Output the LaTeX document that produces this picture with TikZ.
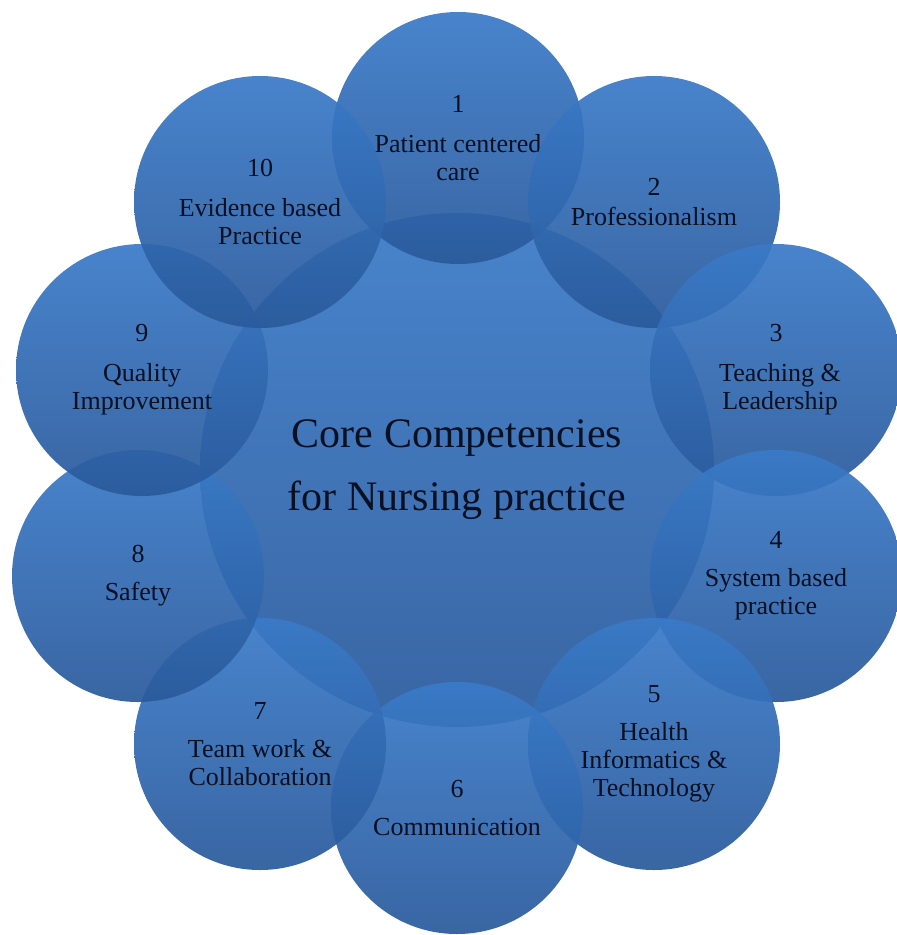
\documentclass[tikz,border=0pt]{standalone}
\usepackage{fontspec}
\setmainfont{Liberation Serif}
\usepackage{tikz}
\usetikzlibrary{positioning}
\usepackage{xcolor}
\definecolor{ringtop}{RGB}{58,122,200}
\definecolor{ringbot}{RGB}{42,90,156}
\definecolor{ink}{RGB}{8,16,34}

\begin{document}
\begin{tikzpicture}[x=1pt,y=-1pt,
        bubble/.style={circle,minimum size=252pt,inner sep=0pt,top color=ringtop,bottom color=ringbot,
            fill opacity=0.93,text opacity=1,text=ink,align=center,font=\fontsize{26}{28}\selectfont},
        hub/.style={bubble,minimum size=514pt,font=\fontsize{42}{63}\selectfont}]
            \useasboundingbox (0,0) rectangle (897,935);
            \node [hub] (core) at (457,470) {Core Competencies\\for Nursing practice};

            \node [bubble] (care) at (458,138) {1\\[12pt]Patient centered\\care};
            \node [bubble] (prof) at (654,202) {2\\[2pt]Professionalism};
            \node [bubble] (teach) at (776,370) {3\\[12pt]\hspace*{8pt}Teaching \&\\\hspace*{8pt}Leadership};
            \node [bubble] (system) at (776,576) {4\\[10pt]System based\\practice};
            \node [bubble] (health) at (654,744) {5\\[10pt]Health\\Informatics \&\\Technology};
            \node [bubble] (comm) at (457,808) {6\\[10pt]Communication};
            \node [bubble] (team) at (260,744) {7\\[10pt]Team work \&\\Collaboration};
            \node [bubble] (safety) at (138,576) {8\\[10pt]Safety};
            \node [bubble] (quality) at (142,370) {9\\[12pt]Quality\\Improvement};
            \node [bubble] (evidence) at (260,202) {10\\[12pt]Evidence based\\Practice};
        \end{tikzpicture}
\end{document}
